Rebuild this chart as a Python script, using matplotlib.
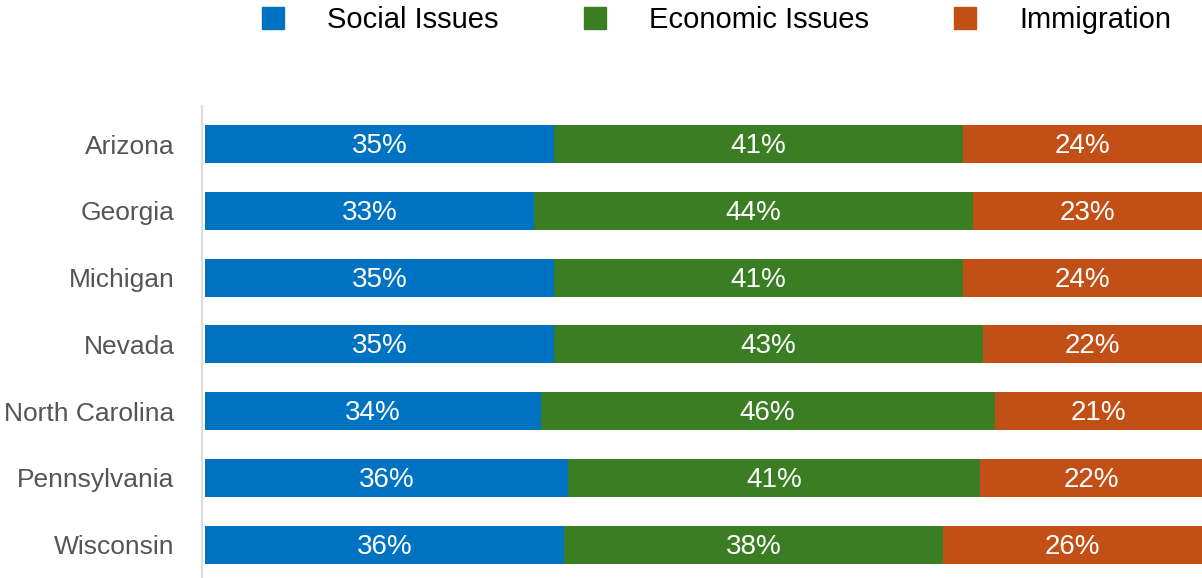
import numpy as np
import matplotlib.pyplot as plt
from matplotlib.lines import Line2D

plt.rcParams['font.family'] = ['Liberation Sans', 'DejaVu Sans']

states = ['Arizona', 'Georgia', 'Michigan', 'Nevada', 'North Carolina', 'Pennsylvania', 'Wisconsin']
social = [35, 33, 35, 35, 34, 36, 36]
economic = [41, 44, 41, 43, 46, 41, 38]
immigration = [24, 23, 24, 22, 21, 22, 26]

series = ['Social Issues', 'Economic Issues', 'Immigration']
colors = ['#0072C2', '#3A7D23', '#C24F16']

data = np.array([social, economic, immigration], dtype=float)
# bars are stacked to 100% of the row total
shares = data / data.sum(axis=0) * 100

fig = plt.figure(figsize=(12.02, 5.78), dpi=100)
ax = fig.add_axes([205 / 1202, 0, 1 - 205 / 1202, 1 - 106 / 578])

y = np.arange(len(states))
left = np.zeros(len(states))
for vals, shr, col in zip(data, shares, colors):
    ax.barh(y, shr, left=left, height=0.57, color=col)
    for yi, l, w, v in zip(y, left, shr, vals):
        ax.text(l + w / 2, yi + 0.03, f'{v:.0f}%', ha='center', va='center',
                color='white', fontsize=20)
    left += shr

ax.set_xlim(0, 100)
ax.set_ylim(6.5, -0.57)
ax.set_yticks(y)
ax.set_yticklabels(states)
ax.tick_params(axis='y', length=0, pad=20, labelsize=19, labelcolor='#555555')
ax.set_xticks([])
for s in ['top', 'right', 'bottom']:
    ax.spines[s].set_visible(False)
ax.spines['left'].set_color('#dddddd')
ax.spines['left'].set_linewidth(1.5)
ax.spines['left'].set_position(('outward', 2))

handles = [Line2D([], [], marker='s', linestyle='none', markersize=16,
                  markerfacecolor=c, markeredgecolor=c) for c in colors]
fig.legend(handles, series, loc='center', bbox_to_anchor=(0.596, 0.965),
           ncol=3, frameon=False, fontsize=21, handlelength=0.8,
           handletextpad=1.45, columnspacing=2.9, borderaxespad=0)

fig.savefig('out.png', dpi=100)
